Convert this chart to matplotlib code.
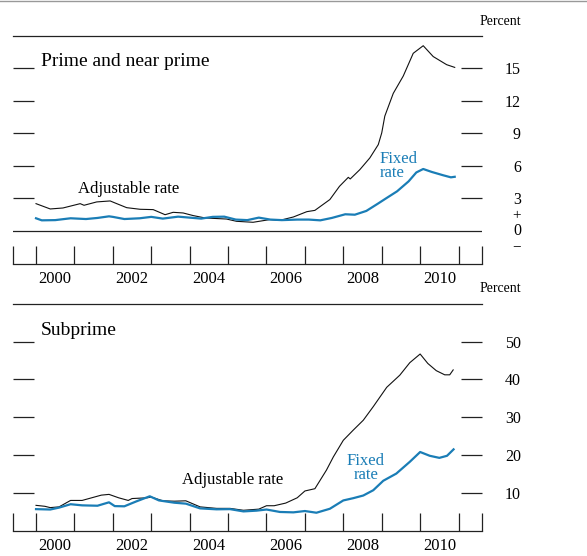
import numpy as np
import matplotlib
matplotlib.use("Agg")
import matplotlib.pyplot as plt
from matplotlib.lines import Line2D

plt.rcParams['font.family'] = ['Liberation Serif', 'DejaVu Serif']

BLUE = '#1a7db6'

# Prime and near prime, adjustable rate
prime_adj_t = [2000.0, 2000.37, 2000.7, 2001.15, 2001.25, 2001.58, 2001.93, 2002.06, 2002.36,
               2002.71, 2003.05, 2003.36, 2003.57, 2003.83, 2004.09, 2004.4, 2004.96, 2005.22,
               2005.65, 2006.09, 2006.35, 2006.7, 2007.05, 2007.26, 2007.65, 2007.9, 2008.13,
               2008.18, 2008.43, 2008.69, 2008.91, 2009.0, 2009.08, 2009.3, 2009.56, 2009.82,
               2010.08, 2010.34, 2010.69, 2010.9]
prime_adj_v = [2.52, 2.03, 2.12, 2.52, 2.37, 2.68, 2.77, 2.58, 2.15,
               2.0, 1.97, 1.5, 1.72, 1.66, 1.42, 1.2, 1.1, 0.89,
               0.8, 1.05, 0.98, 1.29, 1.78, 1.9, 2.9, 4.12, 4.95,
               4.8, 5.66, 6.74, 7.97, 9.05, 10.6, 12.7, 14.3, 16.4,
               17.1, 16.1, 15.35, 15.1]

# Prime and near prime, fixed rate
prime_fix_t = [2000.0, 2000.15, 2000.5, 2000.9, 2001.3, 2001.6, 2001.9, 2002.0, 2002.3, 2002.7,
               2003.0, 2003.3, 2003.7, 2004.0, 2004.3, 2004.6, 2004.9, 2005.2, 2005.5, 2005.8,
               2006.1, 2006.4, 2006.8, 2007.1, 2007.4, 2007.7, 2008.05, 2008.3, 2008.6, 2008.9,
               2009.1, 2009.4, 2009.7, 2009.9, 2010.08, 2010.3, 2010.6, 2010.8, 2010.9]
prime_fix_v = [1.17, 0.98, 1.0, 1.17, 1.1, 1.2, 1.35, 1.3, 1.1, 1.17,
               1.3, 1.14, 1.32, 1.23, 1.14, 1.3, 1.32, 1.05, 1.0, 1.23,
               1.05, 1.0, 1.05, 1.05, 0.98, 1.2, 1.54, 1.5, 1.85, 2.52,
               2.98, 3.66, 4.58, 5.4, 5.72, 5.45, 5.14, 4.95, 5.0]

# Subprime, adjustable rate
sub_adj_t = [2000.0, 2000.23, 2000.37, 2000.6, 2000.9, 2001.2, 2001.45, 2001.7, 2001.9, 2002.15,
             2002.4, 2002.5, 2002.9, 2003.0, 2003.3, 2003.6, 2003.9, 2004.27, 2004.7, 2005.05,
             2005.4, 2005.8, 2006.0, 2006.2, 2006.5, 2006.8, 2007.0, 2007.26, 2007.56, 2007.74,
             2008.0, 2008.26, 2008.52, 2008.78, 2009.13, 2009.47, 2009.73, 2010.0, 2010.2,
             2010.42, 2010.64, 2010.77, 2010.86]
sub_adj_v = [6.7, 6.45, 6.1, 6.3, 8.0, 8.0, 8.7, 9.4, 9.6, 8.7,
             8.0, 8.5, 8.7, 8.9, 7.9, 7.8, 7.9, 6.3, 5.9, 5.9,
             5.4, 5.7, 6.6, 6.6, 7.3, 8.7, 10.5, 11.1, 16.0, 19.5,
             23.9, 26.6, 29.2, 32.8, 37.9, 41.1, 44.4, 46.7, 44.2,
             42.3, 41.2, 41.2, 42.5]

# Subprime, fixed rate
sub_fix_t = [2000.0, 2000.37, 2000.6, 2000.9, 2001.2, 2001.6, 2001.9, 2002.05, 2002.3, 2002.6,
             2002.96, 2003.2, 2003.6, 2003.9, 2004.27, 2004.7, 2005.05, 2005.4, 2005.74, 2006.0,
             2006.35, 2006.7, 2007.0, 2007.3, 2007.65, 2008.0, 2008.26, 2008.52, 2008.78, 2009.04,
             2009.38, 2009.73, 2010.0, 2010.25, 2010.5, 2010.7, 2010.87]
sub_fix_v = [5.7, 5.6, 6.1, 7.0, 6.7, 6.6, 7.5, 6.5, 6.45, 7.7,
             9.1, 8.0, 7.4, 7.15, 5.9, 5.65, 5.7, 5.1, 5.3, 5.6,
             4.95, 4.85, 5.2, 4.75, 5.8, 8.0, 8.6, 9.3, 10.7, 13.2,
             15.1, 18.2, 20.8, 19.8, 19.25, 19.8, 21.5]

top_ticks = [3, 6, 9, 12, 15]
top_labels = ['3', '6', '9', '12', '15']
bot_ticks = [10, 20, 30, 40, 50]
bot_labels = ['10', '20', '30', '40', '50']
label_years = [2000, 2002, 2004, 2006, 2008, 2010]

XMIN, XMAX = 1999.4, 2011.61

fig = plt.figure(figsize=(5.87, 5.56), dpi=100)
ax1 = fig.add_axes([0.0221, 0.5252, 0.799, 0.4101])
ax2 = fig.add_axes([0.0221, 0.0455, 0.799, 0.4083])

fig.add_artist(Line2D([0, 1], [0.999, 0.999], color='#999999', lw=1.0))


def style_axes(ax, ylim, yticks, ylabels):
    ax.set_xlim(XMIN, XMAX)
    ax.set_ylim(*ylim)
    for s in ['left', 'right']:
        ax.spines[s].set_visible(False)
    for s in ['top', 'bottom']:
        ax.spines[s].set_linewidth(0.9)
        ax.spines[s].set_color('#222222')
    ax.set_xticks([XMIN] + list(range(2000, 2012)) + [XMAX])
    ax.set_xticklabels([])
    ax.set_xticks([y + 0.5 for y in label_years], minor=True)
    ax.set_xticklabels([str(y) for y in label_years], minor=True, fontsize=12)
    ax.tick_params(axis='x', which='major', direction='in', length=13, width=0.9, color='#222222')
    ax.tick_params(axis='x', which='minor', length=0, pad=5)
    ax.set_yticks(yticks)
    ax.set_yticklabels(ylabels)
    ax.tick_params(axis='y', direction='in', length=15, width=0.9, color='#222222',
                   left=True, right=True, labelleft=False, labelright=True,
                   labelsize=11.5, pad=28)
    for lab in ax.get_yticklabels():
        lab.set_horizontalalignment('right')
    ax.text(1.083, 1.065, 'Percent', transform=ax.transAxes, ha='right', va='center',
            fontsize=10)


style_axes(ax1, (-3.05, 18), top_ticks, top_labels)
style_axes(ax2, (0, 60), bot_ticks, bot_labels)

ax1.axhline(0, color='#222222', lw=0.9)
ax1.text(1.083, 0.0, '0', transform=ax1.get_yaxis_transform(), ha='right', va='center',
         fontsize=11.5)
ax1.text(1.083, 1.4, '+', transform=ax1.get_yaxis_transform(), ha='right', va='center',
         fontsize=11)
ax1.text(1.083, -1.45, '\u2212', transform=ax1.get_yaxis_transform(), ha='right', va='center',
         fontsize=11)

ax1.plot(prime_adj_t, prime_adj_v, color='#111111', lw=0.8)
ax1.plot(prime_fix_t, prime_fix_v, color=BLUE, lw=1.6)
ax2.plot(sub_adj_t, sub_adj_v, color='#111111', lw=0.8)
ax2.plot(sub_fix_t, sub_fix_v, color=BLUE, lw=1.6)

ax1.text(0.06, 0.886, 'Prime and near prime', transform=ax1.transAxes, fontsize=14,
         va='center', ha='left')
ax2.text(0.06, 0.88, 'Subprime', transform=ax2.transAxes, fontsize=14,
         va='center', ha='left')

ax1.text(2001.1, 3.85, 'Adjustable rate', fontsize=12, va='center', ha='left')
ax1.text(2008.95, 6.0, 'Fixed\nrate', fontsize=12, va='center', ha='left', color=BLUE,
         linespacing=0.85)
ax2.text(2003.8, 13.4, 'Adjustable rate', fontsize=12, va='center', ha='left')
ax2.text(2008.59, 16.6, 'Fixed\nrate', fontsize=12, va='center', ha='center', color=BLUE,
         linespacing=0.85)

fig.savefig('out.png', dpi=100)
